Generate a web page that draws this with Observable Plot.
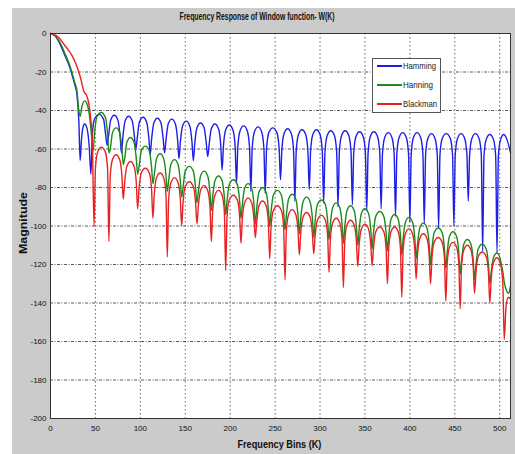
<!DOCTYPE html>
<html>
<head>
<meta charset="utf-8">
<script src="https://cdn.jsdelivr.net/npm/d3@7"></script>
<script src="https://cdn.jsdelivr.net/npm/@observablehq/plot@0.6"></script>
<style>
  html, body { margin: 0; padding: 0; background: #ffffff; }
  body { position: relative; width: 515px; height: 454px; overflow: hidden;
         font-family: "Liberation Sans", Arial, sans-serif; }
  #fig { position: absolute; left: 12px; top: 8px; width: 503px; height: 446px; background: #cbcbcb; }
  #fig svg { display: block; }
  .lbl { position: absolute; color: #111; white-space: nowrap; line-height: 12px; }
  #title { font-size: 10px; font-weight: bold; }
  #xlab { font-size: 11px; font-weight: bold; }
  #ylab { font-size: 11px; font-weight: bold; }
  #legend { position: absolute; left: 372px; top: 58px; width: 69px; height: 55px;
            background: #fff; border: 1px solid #555; box-sizing: border-box; }
  .swatch { position: absolute; left: 4px; width: 25px; height: 2px; }
  .name { position: absolute; left: 30px; font-size: 9px; line-height: 12px; color: #222;
          white-space: nowrap; transform-origin: 0 50%; }
</style>
</head>
<body>
<div id="fig"></div>
<div class="lbl" id="title"></div>
<div class="lbl" id="xlab"></div>
<div class="lbl" id="ylab"></div>
<div id="legend"></div>
<script>
// ---- text ----
const titleText = "Frequency Response of Window function- W(K)";
const xLabel = "Frequency Bins (K)";
const yLabel = "Magnitude";

// ---- ticks ----
const xTicks = [0, 50, 100, 150, 200, 250, 300, 350, 400, 450, 500];
const yTicks = [-200, -180, -160, -140, -120, -100, -80, -60, -40, -20, 0];

// ---- series names / colours ----
const seriesNames = ["Hamming", "Hanning", "Blackman"];
const seriesColors = ["#1e1ee8", "#1b8a1b", "#e82222"];

// ---- series values: [bin K, magnitude dB] ----
const hamming = [
  [0,0],[5,-1.2],[9,-4],[13,-8],[17,-12.5],[21,-17],[24,-21.5],[27,-26.5],[29.5,-32],[31.5,-45],[33,-66],
  [34.5,-55],[36,-49],[38,-47],[40.5,-49],[43,-58],[45,-73],
  [46.5,-53],[49,-44.5],[54,-42],[59,-44.5],[61.5,-53],[63,-58],
  [64.5,-53.5],[67,-45],[71,-42.5],[75,-45],[77.5,-53.5],[79,-62],
  [80.5,-54],[83,-45.5],[87,-43],[91,-45.5],[93.5,-54],[95,-60],
  [96.5,-54.5],[99,-46],[103,-43.5],[107,-46],[109.5,-54.5],[111,-63],
  [112.5,-55],[115,-46.5],[119,-44],[123,-46.5],[125.5,-55],[127,-62],
  [128.5,-55.5],[131,-47],[135,-44.5],[139,-47],[141.5,-55.5],[143,-65],
  [144.5,-56.5],[147,-48],[151,-45.5],[155,-48],[157.5,-56.5],[159,-66],
  [160.5,-57.5],[163,-49],[167,-46.5],[171,-49],[173.5,-57.5],[175,-64],
  [176.5,-58],[179,-49.5],[183,-47],[187,-49.5],[189.5,-58],[191,-71],
  [192.5,-58.5],[195,-50],[199,-47.5],[203,-50],[205.5,-58.5],[207,-78],
  [208.5,-59],[211,-50.5],[215,-48],[219,-50.5],[221.5,-59],[223,-82],
  [224.5,-59.5],[227,-51],[231,-48.5],[235,-51],[237.5,-59.5],[239,-83],
  [240.5,-60],[243,-51.5],[247.5,-49],[252,-51.5],[254.5,-60],[256,-76],
  [257.5,-60.5],[260,-52],[264,-49.5],[268,-52],[270.5,-60.5],[272,-87],
  [273.5,-61],[276,-52.5],[280,-50],[284,-52.5],[286.5,-61],[288,-81],
  [289.5,-61],[292,-52.5],[296,-50],[300,-52.5],[302.5,-61],[304,-88],
  [305.5,-61.5],[308,-53],[312,-50.5],[316,-53],[318.5,-61.5],[320,-90],
  [321.5,-61.5],[324,-53],[328,-50.5],[332,-53],[334.5,-61.5],[336,-89],
  [337.5,-62],[340,-53.5],[344,-51],[348,-53.5],[350.5,-62],[352,-92],
  [353.5,-62],[356,-53.5],[360,-51],[364,-53.5],[366.5,-62],[368,-91],
  [369.5,-62.5],[372,-54],[376,-51.5],[380,-54],[382.5,-62.5],[384,-95],
  [385.5,-62.5],[388,-54],[392,-51.5],[396,-54],[398.5,-62.5],[400,-98],
  [401.5,-62.5],[404,-54],[408,-51.5],[412,-54],[414.5,-62.5],[416,-99],
  [417.5,-63],[420,-54.5],[424,-52],[428,-54.5],[430.5,-63],[432,-101],
  [433.5,-63],[436,-54.5],[440.5,-52],[445,-54.5],[447.5,-63],[449,-100],
  [450.5,-63],[453,-54.5],[457,-52],[461,-54.5],[463.5,-63],[465,-87],
  [466.5,-63],[469,-54.5],[473,-52],[477,-54.5],[479.5,-63],[481,-113],
  [482.5,-63.5],[485,-55],[489,-52.5],[493,-55],[495.5,-63.5],[497,-114],
  [498.5,-63.5],[501,-55],[504.5,-52.5],[508,-55],[510.5,-59],[512,-62]
];

const hanning = [
  [0,0],[5,-1],[9,-3.5],[13,-7],[17,-11.5],[21,-16],[24,-20.5],[27,-25.5],[29.5,-30],[31.5,-40],[33,-43],
  [35,-38],[38,-35],[41,-37],[44,-45],[46,-55],[47.5,-61],
  [49,-52],[51.5,-43.5],[56.5,-41],[61,-43.5],[63.5,-52],[65,-62],
  [66.5,-60],[69,-51.5],[73,-49],[77,-51.5],[79.5,-60],[81,-68],
  [82.5,-65],[85,-56.5],[89,-54],[93,-56.5],[95.5,-65],[97,-73],
  [98.5,-69.5],[101,-61],[105.5,-58.5],[110,-61],[112.5,-69.5],[114,-78],
  [115.5,-73.5],[118,-65],[122,-62.5],[126,-65],[128.5,-73.5],[130,-82],
  [131.5,-76.5],[134,-68],[138,-65.5],[142,-68],[144.5,-76.5],[146,-85],
  [147.5,-80],[150,-71.5],[154.5,-69],[159,-71.5],[161.5,-80],[163,-88],
  [164.5,-82.5],[167,-74],[171,-71.5],[175,-74],[177.5,-82.5],[179,-92],
  [180.5,-85],[183,-76.5],[187,-74],[191,-76.5],[193.5,-85],[195,-94],
  [196.5,-87],[199,-78.5],[203.5,-76],[208,-78.5],[210.5,-87],[212,-96],
  [213.5,-89],[216,-80.5],[220,-78],[224,-80.5],[226.5,-89],[228,-99],
  [229.5,-91],[232,-82.5],[236,-80],[240,-82.5],[242.5,-91],[244,-100],
  [245.5,-92.5],[248,-84],[252.5,-81.5],[257,-84],[259.5,-92.5],[261,-102],
  [262.5,-94.5],[265,-86],[269,-83.5],[273,-86],[275.5,-94.5],[277,-104],
  [278.5,-96],[281,-87.5],[285,-85],[289,-87.5],[291.5,-96],[293,-106],
  [294.5,-97.5],[297,-89],[301.5,-86.5],[306,-89],[308.5,-97.5],[310,-107],
  [311.5,-99],[314,-90.5],[318,-88],[322,-90.5],[324.5,-99],[326,-109],
  [327.5,-100.5],[330,-92],[334,-89.5],[338,-92],[340.5,-100.5],[342,-110],
  [343.5,-102],[346,-93.5],[350,-91],[354,-93.5],[356.5,-102],[358,-112],
  [359.5,-103.5],[362,-95],[366.5,-92.5],[371,-95],[373.5,-103.5],[375,-113],
  [376.5,-105],[379,-96.5],[383,-94],[387,-96.5],[389.5,-105],[391,-115],
  [392.5,-106.5],[395,-98],[399,-95.5],[403,-98],[405.5,-106.5],[407,-117],
  [408.5,-109.5],[411,-101],[415,-98.5],[419,-101],[421.5,-109.5],[423,-120],
  [424.5,-112],[427,-103.5],[431.5,-101],[436,-103.5],[438.5,-112],[440,-122],
  [441.5,-114],[444,-105.5],[448,-103],[452,-105.5],[454.5,-114],[456,-125],
  [457.5,-118],[460,-109.5],[464,-107],[468,-109.5],[470.5,-118],[472,-128],
  [473.5,-120.5],[476,-112],[480.5,-109.5],[485,-112],[487.5,-120.5],[489,-130],
  [490.5,-124],[493,-116.5],[497,-114],[501,-118],[503.5,-124],[505,-129],
  [508,-134],[510,-135],[512,-131]
];

const blackman = [
  [0,0],[6,-1],[10,-2.5],[14,-5],[19,-8],[24,-11.5],[28,-15.5],[31.5,-20],[34,-24],[37,-30],[40,-32],
  [42.5,-36],[44.5,-43],[46.5,-55],[48.5,-100],
  [50,-70],[52.5,-61.5],[56.5,-59],[61,-61.5],[63.5,-70],[65,-108],
  [66.5,-74],[69,-65.5],[73,-63],[77,-65.5],[79.5,-74],[81,-86],
  [82.5,-77.5],[85,-69],[89,-66.5],[93,-69],[95.5,-77.5],[97,-91],
  [98.5,-81],[101,-72.5],[105.5,-70],[110,-72.5],[112.5,-81],[114,-96],
  [115.5,-83.5],[118,-75],[122,-72.5],[126,-75],[128.5,-83.5],[130,-116],
  [131.5,-86],[134,-77.5],[138,-75],[142,-77.5],[144.5,-86],[146,-100],
  [147.5,-88],[150,-79.5],[154.5,-77],[159,-79.5],[161.5,-88],[163,-99],
  [164.5,-90],[167,-81.5],[171,-79],[175,-81.5],[177.5,-90],[179,-108],
  [180.5,-92.5],[183,-84],[187,-81.5],[191,-84],[193.5,-92.5],[195,-123],
  [196.5,-95],[199,-86.5],[203.5,-84],[208,-86.5],[210.5,-95],[212,-109],
  [213.5,-96.5],[216,-88],[220,-85.5],[224,-88],[226.5,-96.5],[228,-106],
  [229.5,-98],[232,-89.5],[236,-87],[240,-89.5],[242.5,-98],[244,-117],
  [245.5,-100.5],[248,-92],[252.5,-89.5],[257,-92],[259.5,-100.5],[261,-128],
  [262.5,-102.5],[265,-94],[269,-91.5],[273,-94],[275.5,-102.5],[277,-115],
  [278.5,-104],[281,-95.5],[285,-93],[289,-95.5],[291.5,-104],[293,-114.5],
  [294.5,-105.5],[297,-97],[301.5,-94.5],[306,-97],[308.5,-105.5],[310,-124],
  [311.5,-107],[314,-98.5],[318,-96],[322,-98.5],[324.5,-107],[326,-132],
  [327.5,-108],[330,-99.5],[334,-97],[338,-99.5],[340.5,-108],[342,-121],
  [343.5,-110],[346,-101.5],[350,-99],[354,-101.5],[356.5,-110],[358,-120.5],
  [359.5,-111.5],[362,-103],[366.5,-100.5],[371,-103],[373.5,-111.5],[375,-130],
  [376.5,-111.5],[379,-103],[383,-100.5],[387,-103],[389.5,-111.5],[391,-137],
  [392.5,-112.5],[395,-104],[399,-101.5],[403,-104],[405.5,-112.5],[407,-127.5],
  [408.5,-115],[411,-106.5],[415,-104],[419,-106.5],[421.5,-115],[423,-130],
  [424.5,-117],[427,-108.5],[431.5,-106],[436,-108.5],[438.5,-117],[440,-139],
  [441.5,-119.5],[444,-111],[448,-108.5],[452,-111],[454.5,-119.5],[456,-143],
  [457.5,-121],[460,-112.5],[464,-110],[468,-112.5],[470.5,-121],[472,-135],
  [473.5,-124.5],[476,-116],[480.5,-113.5],[485,-116],[487.5,-124.5],[489,-140],
  [490.5,-127.5],[493,-119],[497,-116.5],[501,-120],[503.5,-130],[505,-159],
  [507,-142],[509.5,-137],[512,-138]
];

const seriesData = [hamming, hanning, blackman];
const FONT = '"Liberation Sans", Arial, sans-serif';

const lineMarks = seriesData.map((data, i) =>
  Plot.line(data, {
    x: d => d[0], y: d => d[1],
    stroke: seriesColors[i], strokeWidth: 1.4, curve: "monotone-x"
  })
);

const chart = Plot.plot({
  width: 503,
  height: 446,
  marginLeft: 38,
  marginRight: 5,
  marginTop: 25,
  marginBottom: 36,
  style: { background: "transparent", fontFamily: FONT, fontSize: "8px", color: "#111", overflow: "visible" },
  x: { domain: [0, 512], label: null },
  y: { domain: [-200, 0], label: null },
  marks: [
    Plot.frame({ fill: "white", stroke: null }),
    Plot.gridX(xTicks, { stroke: "#222", strokeOpacity: 0.7, strokeDasharray: "1.5,2.5" }),
    Plot.gridY(yTicks, { stroke: "#222", strokeOpacity: 0.75, strokeDasharray: "3,1.5,1,1.5" }),
    ...lineMarks,
    Plot.frame({ stroke: "#333", strokeWidth: 1 }),
    Plot.axisX(xTicks, { tickSize: 0, tickPadding: 7, fontSize: 8, label: null, tickFormat: d => String(d) }),
    Plot.axisY(yTicks, { tickSize: 0, tickPadding: 4, fontSize: 8, label: null, tickFormat: d => String(d) })
  ]
});
document.getElementById("fig").appendChild(chart);

// place a horizontal label so that its text spans `w` px centred at (cx, cy)
function placeLabel(el, text, cx, cy, w, rotate) {
  el.textContent = text;
  const r = el.getBoundingClientRect();
  const s = w / r.width;
  el.style.left = (cx - r.width / 2) + "px";
  el.style.top = (cy - r.height / 2) + "px";
  el.style.transformOrigin = "50% 50%";
  el.style.transform = (rotate ? "rotate(-90deg) " : "") + "scaleX(" + s + ")";
}
placeLabel(document.getElementById("title"), titleText, 257, 16.5, 155, false);
placeLabel(document.getElementById("xlab"), xLabel, 279, 444, 84, false);
placeLabel(document.getElementById("ylab"), yLabel, 22, 223, 62, true);

const legend = document.getElementById("legend");
const nameWidths = [33, 30, 34];
seriesNames.forEach((name, i) => {
  const cy = 7 + i * 19;
  const sw = document.createElement("div");
  sw.className = "swatch";
  sw.style.background = seriesColors[i];
  sw.style.top = (cy - 1) + "px";
  const t = document.createElement("div");
  t.className = "name";
  t.textContent = name;
  t.style.top = (cy - 6) + "px";
  legend.appendChild(sw);
  legend.appendChild(t);
  const w = t.getBoundingClientRect().width;
  t.style.transform = "scaleX(" + (nameWidths[i] / w) + ")";
});
</script>
</body>
</html>
